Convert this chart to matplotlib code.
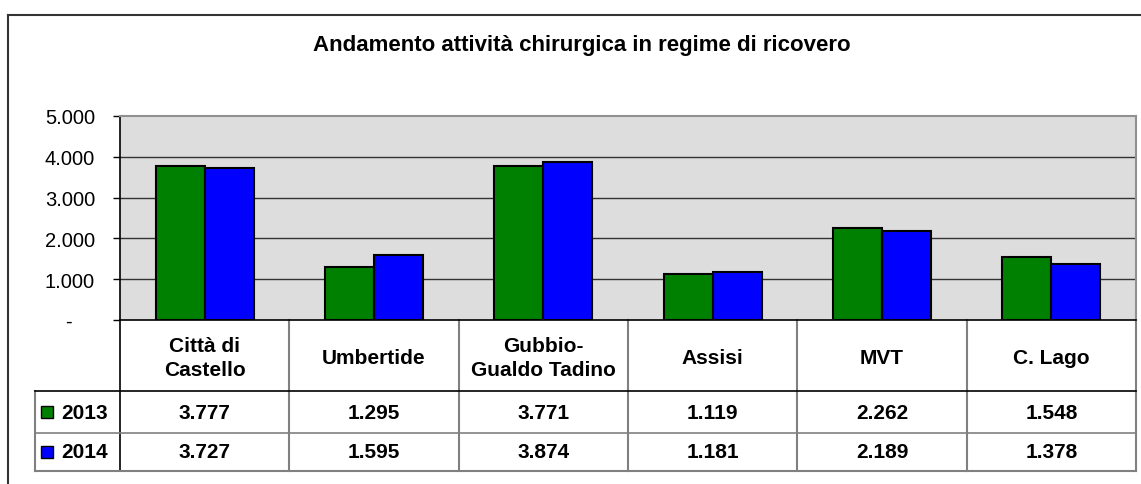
import matplotlib
matplotlib.use("Agg")
import matplotlib.pyplot as plt
import matplotlib.transforms as mtransforms
from matplotlib.lines import Line2D
from matplotlib.patches import Rectangle
import numpy as np

# data
categories = ["Città di\nCastello", "Umbertide", "Gubbio-\nGualdo Tadino", "Assisi", "MVT", "C. Lago"]
series_names = ["2013", "2014"]
values_2013 = [3777, 1295, 3771, 1119, 2262, 1548]
values_2014 = [3727, 1595, 3874, 1181, 2189, 1378]
series_colors = ["#008000", "#0000FF"]
yticks = [0, 1000, 2000, 3000, 4000, 5000]

W, H = 1141, 485
FONT = "Liberation Sans"


def fmt(v):
    return f"{v:,}".replace(",", ".")


def main():
    plt.rcParams["font.family"] = [FONT, "DejaVu Sans"]
    fig = plt.figure(figsize=(W / 100, H / 100), dpi=100)
    fig.patch.set_facecolor("white")

    # plot area in pixels: x 120..1136, y 117..321
    ax = fig.add_axes([120 / W, 1 - 321 / H, 1016 / W, 204 / H])
    ax.set_facecolor("#DDDDDD")

    x = np.arange(len(categories))
    bw = 0.29
    ax.bar(x - bw / 2, values_2013, bw, color=series_colors[0], edgecolor="black", linewidth=1.5, zorder=3)
    ax.bar(x + bw / 2, values_2014, bw, color=series_colors[1], edgecolor="black", linewidth=1.5, zorder=3)

    ax.set_xlim(-0.5, len(categories) - 0.5)
    ax.set_ylim(0, 5000)
    ax.set_yticks(yticks)
    ax.set_yticklabels([fmt(t) if t else "-    " for t in yticks], fontsize=14.5)
    ax.tick_params(axis="y", length=5, width=1, pad=13, color="black")
    ax.set_xticks([])
    for t in yticks[1:-1]:
        ax.axhline(t, color="#333333", linewidth=1, zorder=1)

    for s in ["top", "right"]:
        ax.spines[s].set_color("#909090")
        ax.spines[s].set_linewidth(1.5)
    for s in ["left", "bottom"]:
        ax.spines[s].set_color("black")
        ax.spines[s].set_linewidth(1.2)

    # data table below the plot
    trans = mtransforms.blended_transform_factory(ax.transData, ax.transAxes)
    left_edge = -1.0
    right_edge = len(categories) - 0.5
    y_head = -0.348
    y_r1 = -0.554
    y_r2 = -0.740

    def line(xs, ys, color, lw=1.2):
        ax.add_line(Line2D(xs, ys, transform=trans, color=color, linewidth=lw, clip_on=False))

    for i in range(len(categories) + 1):
        xb = i - 0.5
        line([xb, xb], [0, y_r2], "#808080" if i else "black", 1.5 if i else 1.2)
    line([left_edge, left_edge], [y_head, y_r2], "#808080", 1.5)
    line([left_edge, right_edge], [y_head, y_head], "black", 1.2)
    line([left_edge, right_edge], [y_r1, y_r1], "#808080", 1.2)
    line([left_edge, right_edge], [y_r2, y_r2], "#808080", 1.5)

    for i, c in enumerate(categories):
        ax.text(i, y_head / 2 - 0.01, c, transform=trans, ha="center", va="center",
                fontsize=15, fontweight="bold", linespacing=1.35)
        ax.text(i, (y_head + y_r1) / 2, fmt(values_2013[i]), transform=trans,
                ha="center", va="center", fontsize=15, fontweight="bold")
        ax.text(i, (y_r1 + y_r2) / 2, fmt(values_2014[i]), transform=trans,
                ha="center", va="center", fontsize=15, fontweight="bold")

    row_mids = [(y_head + y_r1) / 2, (y_r1 + y_r2) / 2]
    for name, col, ym in zip(series_names, series_colors, row_mids):
        ax.add_patch(Rectangle((-0.965, ym - 0.03), 0.07, 0.06, transform=trans,
                               facecolor=col, edgecolor="black", linewidth=1, clip_on=False))
        ax.text(-0.845, ym, name, transform=trans, ha="left", va="center",
                fontsize=15, fontweight="bold")

    # outer chart frame
    fig.add_artist(Line2D([8 / W, 8 / W], [0, 1 - 16 / H], color="#333333", linewidth=1.5))
    fig.add_artist(Line2D([8 / W, 1], [1 - 16 / H, 1 - 16 / H], color="#333333", linewidth=1.5))

    fig.text(582 / W, 1 - 46 / H, "Andamento attività chirurgica in regime di ricovero",
             ha="center", va="center", fontsize=16, fontweight="bold")

    fig.savefig("out.png", dpi=100)


if __name__ == "__main__":
    main()
